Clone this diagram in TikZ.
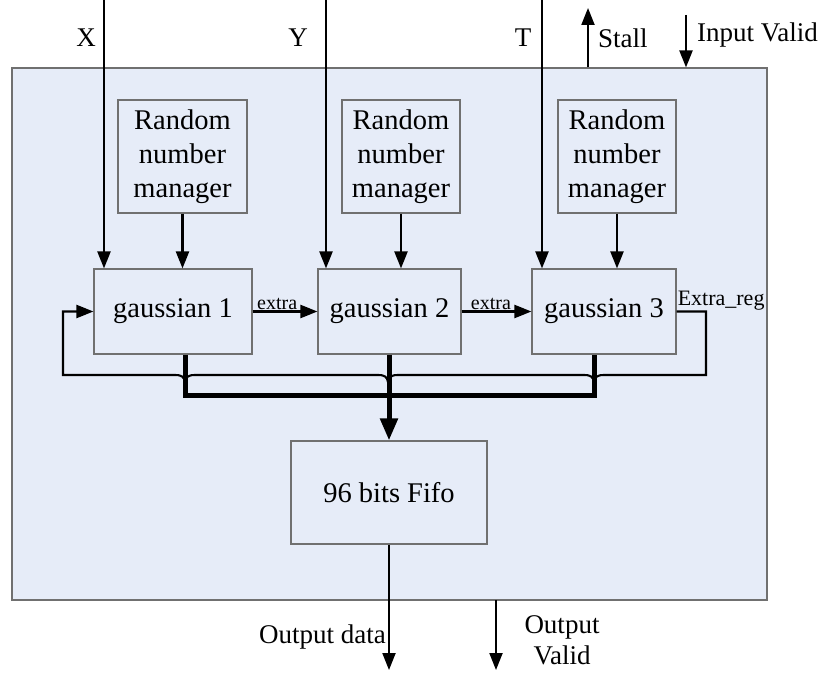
\documentclass[tikz,border=0pt]{standalone}
\usepackage{fontspec}
\setmainfont{Liberation Serif}
\usetikzlibrary{arrows.meta,positioning}

\definecolor{corefill}{HTML}{E6ECF8}
\definecolor{boxline}{HTML}{707070}

\tikzset{
  block/.style={draw=boxline, line width=1.1pt, align=center, inner sep=0pt,
    font=\fontsize{28.5}{34}\selectfont},
  sig/.style={line width=2.1pt, -{Triangle[length=17pt,width=13pt]}},
  bus/.style={line width=5pt},
  lbl/.style={inner sep=1pt, font=\fontsize{27}{31}\selectfont},
  small/.style={inner sep=1pt, font=\fontsize{20}{22}\selectfont}
}

\begin{document}
\begin{tikzpicture}[x=1pt, y=-1pt]
  \useasboundingbox (0,0) rectangle (825,682);
  % outer unit
  \node[draw=boxline, fill=corefill, line width=1.1pt, minimum width=755pt, minimum height=532pt] (core) at (389.5,334) {};

  % random number managers
  \node[block, minimum width=129pt, minimum height=113pt] (rnm1) at (182.5,156.5) {Random\\number\\manager};
  \node[block, minimum width=118pt, minimum height=113pt] (rnm2) at (401,156.5) {Random\\number\\manager};
  \node[block, minimum width=118pt, minimum height=113pt] (rnm3) at (617,156.5) {Random\\number\\manager};

  % gaussian generators
  \node[block, minimum width=158pt, minimum height=85pt] (g1) at (173,311.5) {gaussian 1};
  \node[block, minimum width=143pt, minimum height=85pt] (g2) at (389.5,311.5) {gaussian 2};
  \node[block, minimum width=144pt, minimum height=85pt] (g3) at (604,311.5) {gaussian 3};

  % output fifo
  \node[block, minimum width=196pt, minimum height=103pt] (fifo) at (389,492.5) {96 bits Fifo};

  % inputs
  \coordinate (xin) at (104,0);
  \coordinate (yin) at (326,0);
  \coordinate (tin) at (542,0);
  \draw[sig] (xin) -- (xin |- g1.north);
  \draw[sig] (yin) -- (yin |- g2.north);
  \draw[sig] (tin) -- (tin |- g3.north);
  \node[lbl] (xlbl) at (86,38) {X};
  \node[lbl] (ylbl) at (298,38) {Y};
  \node[lbl] (tlbl) at (523,38) {T};

  % handshake
  \coordinate (stall) at (588,8);
  \coordinate (ivalid) at (686,15);
  \draw[sig] (stall |- core.north) -- (stall);
  \draw[sig] (ivalid) -- (ivalid |- core.north);
  \node[lbl, anchor=west] (stalllbl) at (597,38) {Stall};
  \node[lbl, anchor=west] (ivlbl) at (696,35) {Input Valid};

  % random numbers
  \draw[sig] (rnm1.south) -- (rnm1.south |- g1.north);
  \draw[sig] (rnm2.south) -- (rnm2.south |- g2.north);
  \draw[sig] (rnm3.south) -- (rnm3.south |- g3.north);

  % chain
  \draw[sig] (g1.east) -- node[small, above, pos=0.38] {extra} (g2.west);
  \draw[sig] (g2.east) -- node[small, above, pos=0.42] {extra} (g3.west);
  \node[small, anchor=south west, font=\fontsize{22}{24}\selectfont] (xreg) at (g3.east) {Extra\_reg};

  % feedback with hops
  \coordinate (fbr) at (706,375);
  \coordinate (fbl) at (63,375);
  \draw[sig] (g3.east) -| (fbr)
    -- (604,375) .. controls (597,375) and (595,377) .. (594,382) .. controls (593,377) and (591,375) .. (584,375)
    -- (398,375) .. controls (391,375) and (389,377) .. (388,382) .. controls (387,377) and (385,375) .. (378,375)
    -- (195,375) .. controls (188,375) and (186,377) .. (185,382) .. controls (184,377) and (182,375) .. (175,375)
    -- (fbl) |- (g1.west);

  % data bus
  \coordinate (busl) at (185,395);
  \coordinate (busr) at (594,395);
  \draw[bus] (g1.south -| busl) -- (busl) -- (busr) -- (g3.south -| busr);
  \draw[bus, -{Triangle[length=22pt,width=17pt]}] (g2.south -| fifo.north) -- (fifo.north);

  % outputs
  \coordinate (odata) at (389,670);
  \coordinate (ovtop) at (496,600);
  \coordinate (ovalid) at (496,670);
  \draw[sig] (fifo.south) -- (odata);
  \draw[sig] (ovtop) -- (ovalid);
  \node[lbl, anchor=east] (odlbl) at (387,637) {Output data};
  \node[lbl, align=center] (ovlbl) at (562,640) {Output\\Valid};
\end{tikzpicture}
\end{document}
